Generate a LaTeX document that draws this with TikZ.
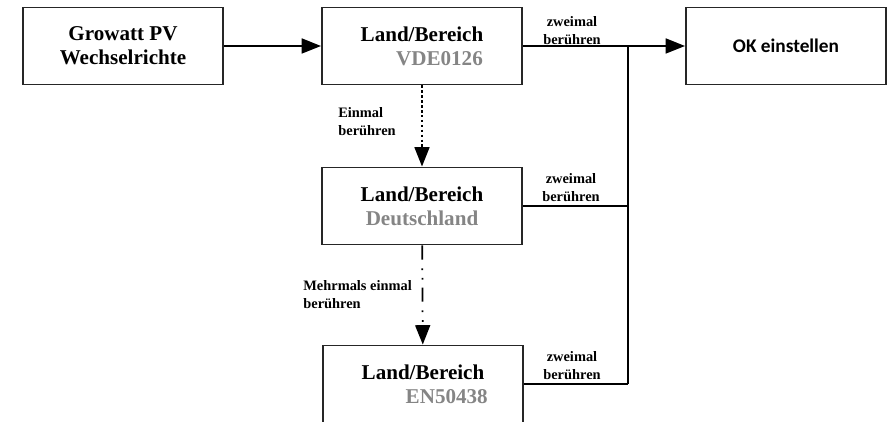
\documentclass[tikz,border=0pt]{standalone}
\usepackage{fontspec}
\setmainfont{Liberation Serif}
\newfontfamily\calibrifont{Carlito}
\usetikzlibrary{arrows.meta}
\definecolor{boxLine}{HTML}{262626}
\definecolor{grayText}{HTML}{858585}

\begin{document}
\begin{tikzpicture}[x=0.02cm, y=-0.02cm, >={Triangle[length=11pt,width=8.5pt]},
    box/.style={draw=boxLine, line width=1.1pt, minimum width=4cm, minimum height=1.54cm,
        align=center, font=\fontsize{12}{13.6}\selectfont\bfseries},
    tag/.style={font=\fontsize{8.2}{10.2}\selectfont\bfseries, align=center, inner sep=0pt},
    link/.style={line width=1pt, color=black}]

    % page frame
    \useasboundingbox (0,0) rectangle (890,422);
    \clip (0,0) rectangle (890,422);

    % boxes
    \node[box] (pv) at (123,46) {Growatt PV\\Wechselrichte};
    \node[box] (vde) at (422,46) {Land/Bereich\\\hspace*{0.7cm}\textcolor{grayText}{VDE0126}};
    \node[box, font=\calibrifont\fontsize{11}{13}\selectfont\bfseries] (ok) at (786,46) {OK einstellen};
    \node[box] (de) at (422,206) {Land/Bereich\\\textcolor{grayText}{Deutschland}};
    \node[box] (en) at (423,384) {Land/Bereich\\\hspace*{0.95cm}\textcolor{grayText}{EN50438}};

    % junction column on the right
    \coordinate (j) at (628,46);

    % connectors
    \draw[link, ->] (pv) -- (vde);
    \draw[link, ->] (vde) -- (ok);
    \draw[link] (j) -- (j |- en.east);
    \draw[link] (de.east) -- (de.east -| j);
    \draw[link] (en.east) -- (en.east -| j);
    \draw[link, ->, dash pattern=on 1.4pt off 1.4pt] (vde) -- (de);
    \draw[link, ->, dash pattern=on 8pt off 5pt on 1pt off 4.5pt on 1pt off 4.5pt] (de) -- (en);

    % labels
    \node[tag] (z1) at (572,31) {zweimal\\berühren};
    \node[tag] (z2) at (571,188) {zweimal\\berühren};
    \node[tag] (z3) at (572,366) {zweimal\\berühren};
    \node[tag, align=left, anchor=west] (once) at (338,122) {Einmal\\berühren};
    \node[tag, align=left, anchor=west] (more) at (303,295) {Mehrmals einmal\\berühren};

\end{tikzpicture}
\end{document}
